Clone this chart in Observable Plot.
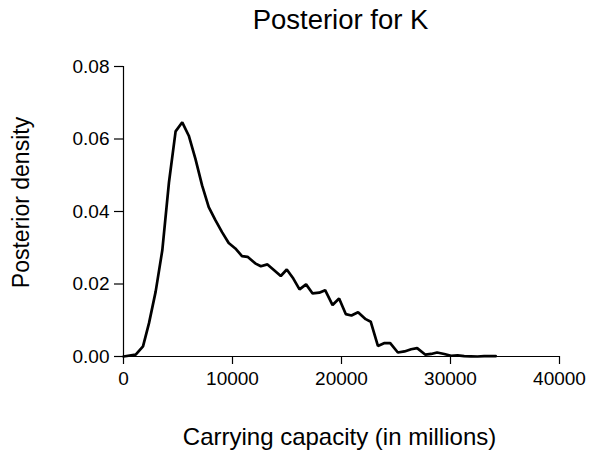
<!DOCTYPE html>
<html>
<head>
<meta charset="utf-8">
<script src="https://cdn.jsdelivr.net/npm/d3@7"></script>
<script src="https://cdn.jsdelivr.net/npm/@observablehq/plot@0.6"></script>
<style>
  html, body { margin: 0; padding: 0; background: #fff; }
  svg { display: block; }
</style>
</head>
<body>
<div id="chart"></div>
<script>
const capacity = [0, 1120, 1790, 2340, 2950, 3560, 4170, 4780, 5390, 5990, 6600, 7210, 7820, 8430, 9040, 9650, 10260, 10870, 11380, 12080, 12600, 13210, 13820, 14430, 14980, 15580, 16150, 16750, 17350, 17960, 18500, 19180, 19780, 20390, 20910, 21520, 22220, 22680, 23340, 23950, 24470, 25170, 25780, 26390, 26940, 27700, 28220, 28770, 29430, 30050, 30650, 31260, 31870, 32480, 33090, 34150];
const density = [0, 0.0005, 0.0028, 0.0092, 0.0179, 0.0293, 0.048, 0.0621, 0.0646, 0.0609, 0.0545, 0.0472, 0.0412, 0.0376, 0.0343, 0.0313, 0.0298, 0.0277, 0.0275, 0.0257, 0.0249, 0.0254, 0.0238, 0.0222, 0.024, 0.0215, 0.0185, 0.0199, 0.0174, 0.0176, 0.0183, 0.0142, 0.016, 0.0117, 0.0113, 0.0122, 0.0103, 0.0096, 0.0029, 0.0037, 0.0037, 0.0011, 0.0014, 0.002, 0.0023, 0.0005, 0.0007, 0.0011, 0.0007, 0.0002, 0.0003, 0.0001, 0.00005, 0, 0.0001, 0.0001];
const xTicks = [0, 10000, 20000, 30000, 40000];
const yTicks = [0, 0.02, 0.04, 0.06, 0.08];
const titleText = "Posterior for K";
const xLabel = "Carrying capacity (in millions)";
const yLabel = "Posterior density";

const rows = capacity.map((c, i) => ({capacity: c, density: density[i]}));
const W = 591, H = 454;
const mL = 123, mR = 32, mT = 66, mB = 98;

const chart = Plot.plot({
  width: W,
  height: H,
  marginLeft: mL,
  marginRight: mR,
  marginTop: mT,
  marginBottom: mB,
  style: {fontFamily: "'Liberation Sans', Arial, sans-serif", fontSize: "19px", color: "#000", background: "#fff"},
  x: {domain: [0, 40000]},
  y: {domain: [0, 0.08]},
  marks: [
    Plot.ruleY([0], {x1: 0, x2: 40000, stroke: "#000", strokeWidth: 1.2}),
    Plot.ruleX([0], {y1: 0, y2: 0.08, stroke: "#000", strokeWidth: 1.2}),
    Plot.axisX({ticks: xTicks, tickSize: 8, tickPadding: 7, tickFormat: d => String(d), stroke: "#000", strokeWidth: 1.2, strokeOpacity: 1, fill: "#000", fontSize: 19, label: null}),
    Plot.axisY({ticks: yTicks, tickSize: 9, tickPadding: 5, tickFormat: d => d.toFixed(2), stroke: "#000", strokeWidth: 1.2, strokeOpacity: 1, fill: "#000", fontSize: 19, label: null}),
    Plot.line(rows, {x: "capacity", y: "density", stroke: "#000", strokeWidth: 2.7, strokeLinejoin: "miter"}),
    Plot.text([titleText], {frameAnchor: "top", lineAnchor: "bottom", dx: -1, dy: -38, fontSize: 27.5, fill: "#000"}),
    Plot.text([xLabel], {frameAnchor: "bottom", lineAnchor: "bottom", dx: -2, dy: 88, fontSize: 24, fill: "#000"}),
    Plot.text([yLabel], {frameAnchor: "left", textAnchor: "middle", lineAnchor: "bottom", dx: -95, dy: -9, rotate: -90, fontSize: 23, fill: "#000"})
  ]
});
document.getElementById("chart").appendChild(chart);
</script>
</body>
</html>
